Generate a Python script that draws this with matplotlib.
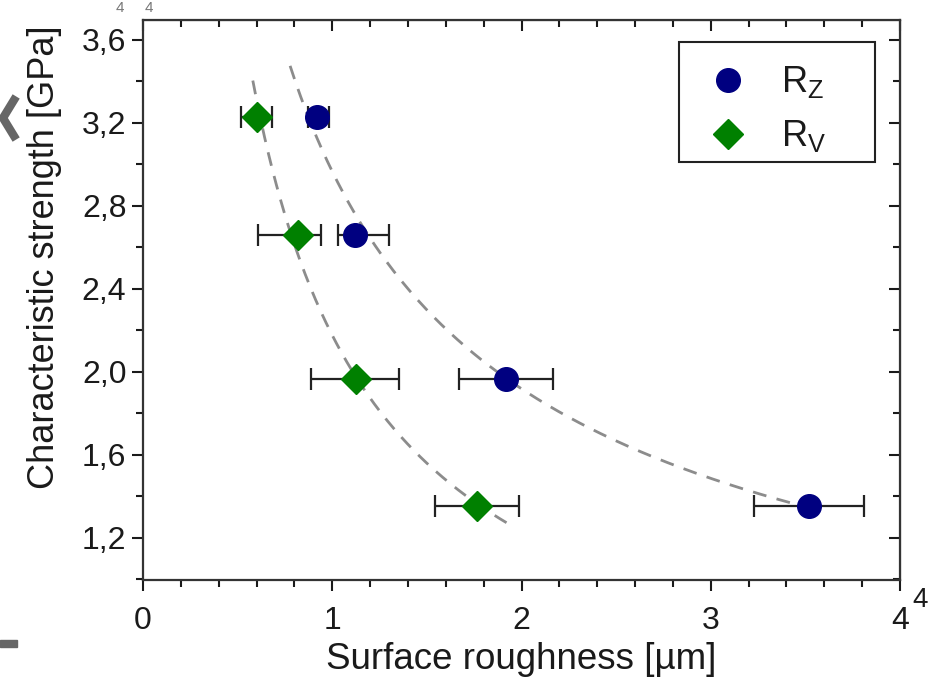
import numpy as np
import matplotlib
matplotlib.use("Agg")
import matplotlib.pyplot as plt
from matplotlib.lines import Line2D
from matplotlib.patches import Rectangle
from matplotlib.ticker import MultipleLocator, FuncFormatter

plt.rcParams['font.family'] = ['Liberation Sans', 'DejaVu Sans']
plt.rcParams['mathtext.fontset'] = 'custom'
plt.rcParams['mathtext.rm'] = 'Liberation Sans'
plt.rcParams['mathtext.it'] = 'Liberation Sans'

# Data
strength = [3.23, 2.66, 1.966, 1.354]          # GPa
rz_x = [0.92, 1.12, 1.918, 3.52]
rz_lo = [0.05, 0.09, 0.25, 0.29]
rz_hi = [0.06, 0.18, 0.25, 0.29]
rv_x = [0.60, 0.82, 1.125, 1.765]
rv_lo = [0.08, 0.21, 0.24, 0.22]
rv_hi = [0.08, 0.12, 0.23, 0.22]

# x-ranges of the dashed fit curves
rz_fit_range = (0.777, 3.57)
rv_fit_range = (0.58, 1.955)

y_ticks = [1.2, 1.6, 2.0, 2.4, 2.8, 3.2, 3.6]
x_ticks = [0, 1, 2, 3, 4]

fig = plt.figure(figsize=(9.35, 6.79), dpi=100)
ax = fig.add_axes([0.153, 0.146, 0.8096, 0.8245])

navy = '#000080'
green = '#008000'
ink = '#1a1a1a'

# power-law fits, y = a * x^b
for xs, rng in ((rz_x, rz_fit_range), (rv_x, rv_fit_range)):
    b, lna = np.polyfit(np.log(xs), np.log(strength), 1)
    xf = np.linspace(rng[0], rng[1], 200)
    ax.plot(xf, np.exp(lna) * xf ** b, color='#8c8c8c', lw=2.0,
            dashes=(5, 3.8), zorder=1)

ax.errorbar(rz_x, strength, xerr=[rz_lo, rz_hi], fmt='o', color=navy,
            ms=17, ecolor='#222222', elinewidth=1.6, capsize=8, capthick=1.6,
            zorder=3)
ax.errorbar(rv_x, strength, xerr=[rv_lo, rv_hi], fmt='D', color=green,
            ms=15.5, ecolor='#222222', elinewidth=1.6, capsize=8, capthick=1.6,
            zorder=3)

ax.set_xlim(0, 4)
ax.set_ylim(0.998, 3.696)
ax.set_xticks(x_ticks)
ax.set_yticks(y_ticks)
ax.xaxis.set_minor_locator(MultipleLocator(0.2))
ax.yaxis.set_minor_locator(MultipleLocator(0.2))
ax.yaxis.set_major_formatter(FuncFormatter(lambda v, p: f'{v:.1f}'.replace('.', ',')))

ax.tick_params(which='major', direction='out', length=8, width=1.5,
               labelsize=23, colors=ink)
ax.tick_params(axis='x', pad=11)
ax.tick_params(axis='y', pad=4)
ax.tick_params(which='minor', direction='out', length=5, width=1.5, colors=ink)
for s in ax.spines.values():
    s.set_linewidth(1.6)
    s.set_color('#333333')

# mirrored ticks pointing inward on top and right
top = ax.secondary_xaxis('top')
top.set_xticks(x_ticks)
top.xaxis.set_minor_locator(MultipleLocator(0.2))
top.tick_params(which='both', direction='in', labeltop=False, width=1.5, colors=ink)
top.tick_params(which='major', length=8)
top.tick_params(which='minor', length=5)
right = ax.secondary_yaxis('right')
right.set_yticks(y_ticks)
right.yaxis.set_minor_locator(MultipleLocator(0.2))
right.tick_params(which='both', direction='in', labelright=False, width=1.5, colors=ink)
right.tick_params(which='major', length=8)
right.tick_params(which='minor', length=5)

ax.set_xlabel('Surface roughness [µm]', fontsize=26.5, color=ink, labelpad=4)
ax.set_ylabel('Characteristic strength [GPa]', fontsize=26, color=ink)
ax.yaxis.set_label_coords(-0.107, 0.577)

# legend: frame drawn separately (wider than the entries need)
ax.add_patch(Rectangle((0.708, 0.746), 0.259, 0.215, transform=ax.transAxes,
                       fill=False, ec='#222222', lw=1.5, zorder=5))
handles = [Line2D([], [], ls='none', marker='o', ms=17, color=navy),
           Line2D([], [], ls='none', marker='D', ms=15.5, color=green)]
leg = ax.legend(handles, [r'R$_\mathrm{Z}$', r'R$_\mathrm{V}$'],
                loc='upper left', bbox_to_anchor=(0.708, 0.947), fontsize=26,
                frameon=False, handlelength=1.92, handletextpad=0.5,
                borderpad=0.4, labelspacing=0.5, borderaxespad=0)
for t in leg.get_texts():
    t.set_color(ink)

# stray fragments at the image edges
fig.text(0.976, 0.106, '4', fontsize=20, color=ink)
for fx in (0.124, 0.155):
    fig.text(fx, 0.999, '4', fontsize=11, color='#777777', va='top')
fig.add_artist(Line2D([14 / 935, 3 / 935, 14 / 935],
                      [1 - 100 / 679, 1 - 118 / 679, 1 - 136 / 679],
                      transform=fig.transFigure, color='#666666', lw=6))
fig.patches.append(Rectangle((0.0, 0.047), 0.018, 0.011,
                             transform=fig.transFigure, color='#666666'))

fig.savefig('out.png', dpi=100)
